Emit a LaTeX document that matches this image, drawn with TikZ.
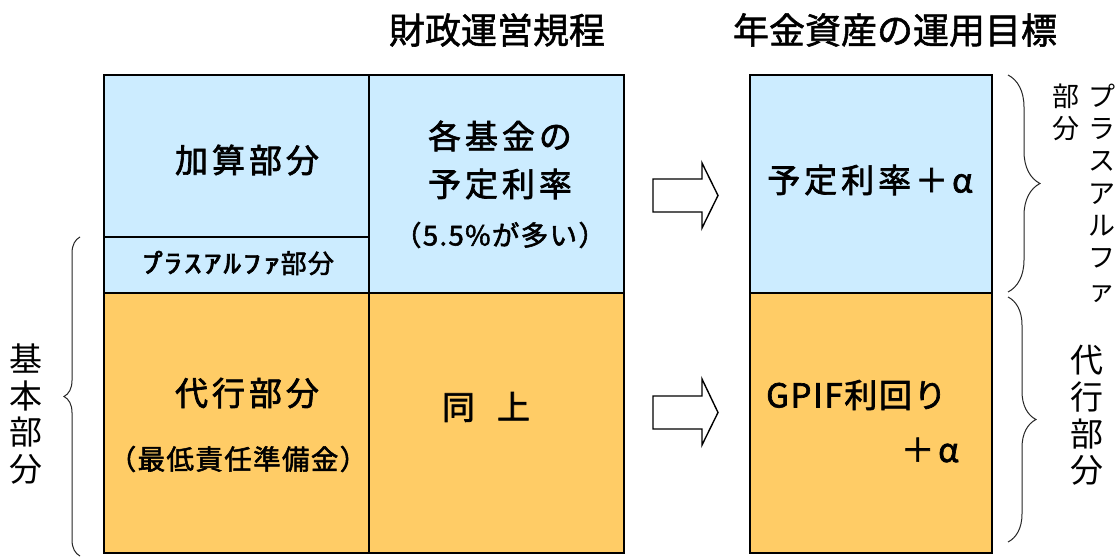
\documentclass[tikz,border=0pt]{standalone}
\usepackage{fontspec}
\setmainfont{Noto Sans CJK JP}
\newfontfamily\jp{Noto Sans CJK JP}
\newfontfamily\jpb[FakeBold=1.5]{Noto Sans CJK JP}
\newfontfamily\jpls[LetterSpace=12,FakeBold=2]{Noto Sans CJK JP}
\newfontfamily\jpms[LetterSpace=5,FakeBold=2]{Noto Sans CJK JP}
\usetikzlibrary{decorations.pathreplacing}
\definecolor{lblue}{RGB}{204,236,255}
\definecolor{lorange}{RGB}{255,204,102}
\tikzset{
  frame/.style={line width=1.6pt, draw=black},
  big/.style={inner sep=0pt, font=\jpls\fontsize{33}{40}\selectfont},
  mid/.style={inner sep=0pt, font=\jpms\fontsize{27.5}{32}\selectfont},
  title/.style={inner sep=0pt, font=\jpb\fontsize{36}{40}\selectfont},
  vlab/.style={inner sep=0pt, align=center, font=\jp\fontsize{33}{36.6}\selectfont},
  vlabs/.style={inner sep=0pt, align=center, font=\jp\fontsize{27}{32.3}\selectfont},
  bigarrow/.style={draw=black, line width=1.4pt, fill=white, line join=miter},
  curly/.style={draw=black!85, line width=1pt, decorate},
}
\begin{document}
\begin{tikzpicture}[x=1pt,y=-1pt]
\useasboundingbox[fill=white] (0,0) rectangle (1120,559);
% left table
\fill[lblue] (104,75) rectangle (624,293);
\fill[lorange] (104,293) rectangle (624,553);
\draw[frame] (104,75) rectangle (624,553);
\draw[frame] (104,293) -- (624,293);
\draw[frame] (369,75) -- (369,553);
\draw[frame] (104,237) -- (369,237);
% right table
\fill[lblue] (750,75) rectangle (992,293);
\fill[lorange] (750,293) rectangle (992,553);
\draw[frame] (750,75) rectangle (992,553);
\draw[frame] (750,293) -- (992,293);
% titles
\node[title] (t1) at (497,30) {財政運営規程};
\node[title] (t2) at (895,30) {年金資産の運用目標};
% left table texts
\node[big] (kasan) at (247,160) {加算部分};
\node[inner sep=0pt, font=\jpms\fontsize{26}{32}\selectfont] (plus) at (238,263) {\scalebox{1.38}[1]{ﾌ\kern-4ptﾟ\kern-6ptﾗｽｱﾙﾌｧ}部分};
\node[big] (kaku) at (500,136) {各基金の};
\node[big] (yotei) at (500,184) {予定利率};
\node[mid] (gogo) at (500,235) {（5.5\%が多い）};
\node[big] (daiko) at (247,393) {代行部分};
\node[mid] (saitei) at (238,459) {（最低責任準備金）};
\node[big] (dojo) at (486,407) {同\hspace{22pt}上};
% right table texts
\node[mid, font=\jpms\fontsize{33}{40}\selectfont, anchor=west] (gpif) at (766,395) {GPIF利回り};
\node[big] (yalpha) at (870,180) {予定利率＋α};
\node[big] (palpha) at (930,450) {＋α};
% arrows
\draw[bigarrow] (653,179) -- (702,179) -- (702,163) -- (718,195.5) -- (702,228) -- (702,212) -- (653,212) -- cycle;
\draw[bigarrow] (653,396) -- (702,396) -- (702,379) -- (718,412.5) -- (702,445) -- (702,429) -- (653,429) -- cycle;
% braces
\coordinate (lb1) at (80,556);
\coordinate (lb2) at (80,237);
\draw[curly, decoration={brace, amplitude=16pt}] (lb1) -- (lb2);
\coordinate (rb1) at (1008,75);
\coordinate (rb2) at (1008,292);
\draw[curly, decoration={brace, amplitude=32pt}] (rb1) -- (rb2);
\coordinate (rb3) at (1008,297);
\coordinate (rb4) at (1008,542);
\draw[curly, decoration={brace, amplitude=28pt}] (rb3) -- (rb4);
% vertical labels
\node[vlab] (kihon) at (26,414) {基\\本\\部\\分};
\node[vlab] (daikov) at (1087,415.5) {代\\行\\部\\分};
\node[vlabs] (plusv) at (1102,193) {プ\\ラ\\ス\\ア\\ル\\フ\\ァ};
\node[vlabs] (bubun) at (1066,112.5) {部\\分};
\end{tikzpicture}
\end{document}
